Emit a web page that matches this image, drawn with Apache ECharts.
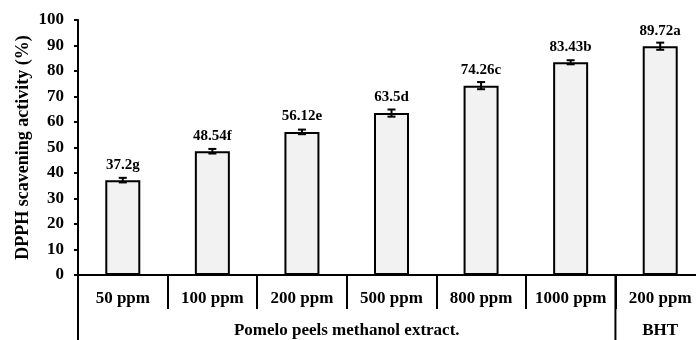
<!DOCTYPE html>
<html><head><meta charset="utf-8">
<script src="https://cdn.jsdelivr.net/npm/echarts@6/dist/echarts.min.js"></script>
<style>html,body{margin:0;padding:0;background:#fff}#c{width:696px;height:340px}</style>
</head><body><div id="c"></div>
<script>
const categories = ['50 ppm','100 ppm','200 ppm','500 ppm','800 ppm','1000 ppm','200 ppm'];
const values = [37.2, 48.54, 56.12, 63.5, 74.26, 83.43, 89.72];
const letters = ['g','f','e','d','c','b','a'];
const errors = [0.9, 0.9, 0.9, 1.4, 1.4, 0.8, 1.4];
const groups = [{name:'Pomelo peels methanol extract.', count:6},{name:'BHT', count:1}];
const yTitle = 'DPPH scavening activity (%)';

const FONT = "'Liberation Serif','Times New Roman',serif";
const chart = echarts.init(document.getElementById('c'), null, {renderer:'canvas'});
const catIdx = categories.map((c,i)=>i);
chart.setOption({
  animation:false,
  backgroundColor:'#fff',
  grid:{left:78, top:20, height:255, width:627, outerBoundsMode:'none', containLabel:false},
  xAxis:{type:'category', data:catIdx,
    axisLine:{lineStyle:{color:'#000', width:2}},
    axisTick:{show:true, interval:0, length:34, lineStyle:{color:'#000', width:2}},
    axisLabel:{interval:0, hideOverlap:false, margin:15, color:'#000', fontFamily:FONT, fontWeight:'bold', fontSize:17,
      formatter:(v)=>categories[+v]}
  },
  yAxis:{type:'value', min:0, max:100, interval:10,
    name:yTitle, nameLocation:'middle', nameGap:46, nameMoveOverlap:false,
    nameTextStyle:{color:'#000', fontFamily:FONT, fontWeight:'bold', fontSize:18},
    axisLine:{show:true, lineStyle:{color:'#000', width:2}},
    axisTick:{show:true, length:4, lineStyle:{color:'#000', width:2}},
    splitLine:{show:false},
    axisLabel:{margin:14, color:'#000', fontFamily:FONT, fontWeight:'bold', fontSize:17}
  },
  series:[
    {type:'bar', data:values, barWidth:35,
      itemStyle:{color:'#f2f2f2', borderColor:'#000', borderWidth:2},
      label:{show:true, position:'top', distance:8, color:'#000', fontFamily:FONT, fontWeight:'bold', fontSize:15,
        formatter:(p)=>values[p.dataIndex]+letters[p.dataIndex]}
    },
    {type:'custom', data:values.map((v,i)=>[i, v, errors[i]]), z:10,
      renderItem:(params, api)=>{
        const x = api.value(0), v = api.value(1), e = api.value(2);
        const hi = api.coord([x, v+e]), lo = api.coord([x, v-e]);
        const cw = 4;
        const st = {stroke:'#000', lineWidth:2};
        return {type:'group', children:[
          {type:'line', shape:{x1:hi[0], y1:hi[1], x2:lo[0], y2:lo[1]}, style:st},
          {type:'line', shape:{x1:hi[0]-cw, y1:hi[1], x2:hi[0]+cw, y2:hi[1]}, style:st},
          {type:'line', shape:{x1:lo[0]-cw, y1:lo[1], x2:lo[0]+cw, y2:lo[1]}, style:st}
        ]};
      }
    }
  ]
});

// group labels and separators below the axis
const c0 = chart.convertToPixel({xAxisIndex:0}, 0);
const c1 = chart.convertToPixel({xAxisIndex:0}, 1);
const bw = c1 - c0;
const yAxisPix = chart.convertToPixel({yAxisIndex:0}, 0);
const H = chart.getHeight();
const gfx = [];
let start = 0;
const startX = c0 - bw/2;
gfx.push({type:'line', shape:{x1:startX, y1:yAxisPix, x2:startX, y2:H}, style:{stroke:'#000', lineWidth:2}});
groups.forEach(g=>{
  const left = startX + start*bw, right = startX + (start+g.count)*bw;
  gfx.push({type:'text', x:(left+right)/2, y:yAxisPix+56,
    style:{text:g.name, fill:'#000', font:"bold 17px "+FONT, textAlign:'center', textVerticalAlign:'middle'}});
  start += g.count;
  if (start < categories.length) {
    gfx.push({type:'line', shape:{x1:right, y1:yAxisPix, x2:right, y2:H}, style:{stroke:'#000', lineWidth:2}});
  }
});
chart.setOption({graphic:gfx});
</script></body></html>
